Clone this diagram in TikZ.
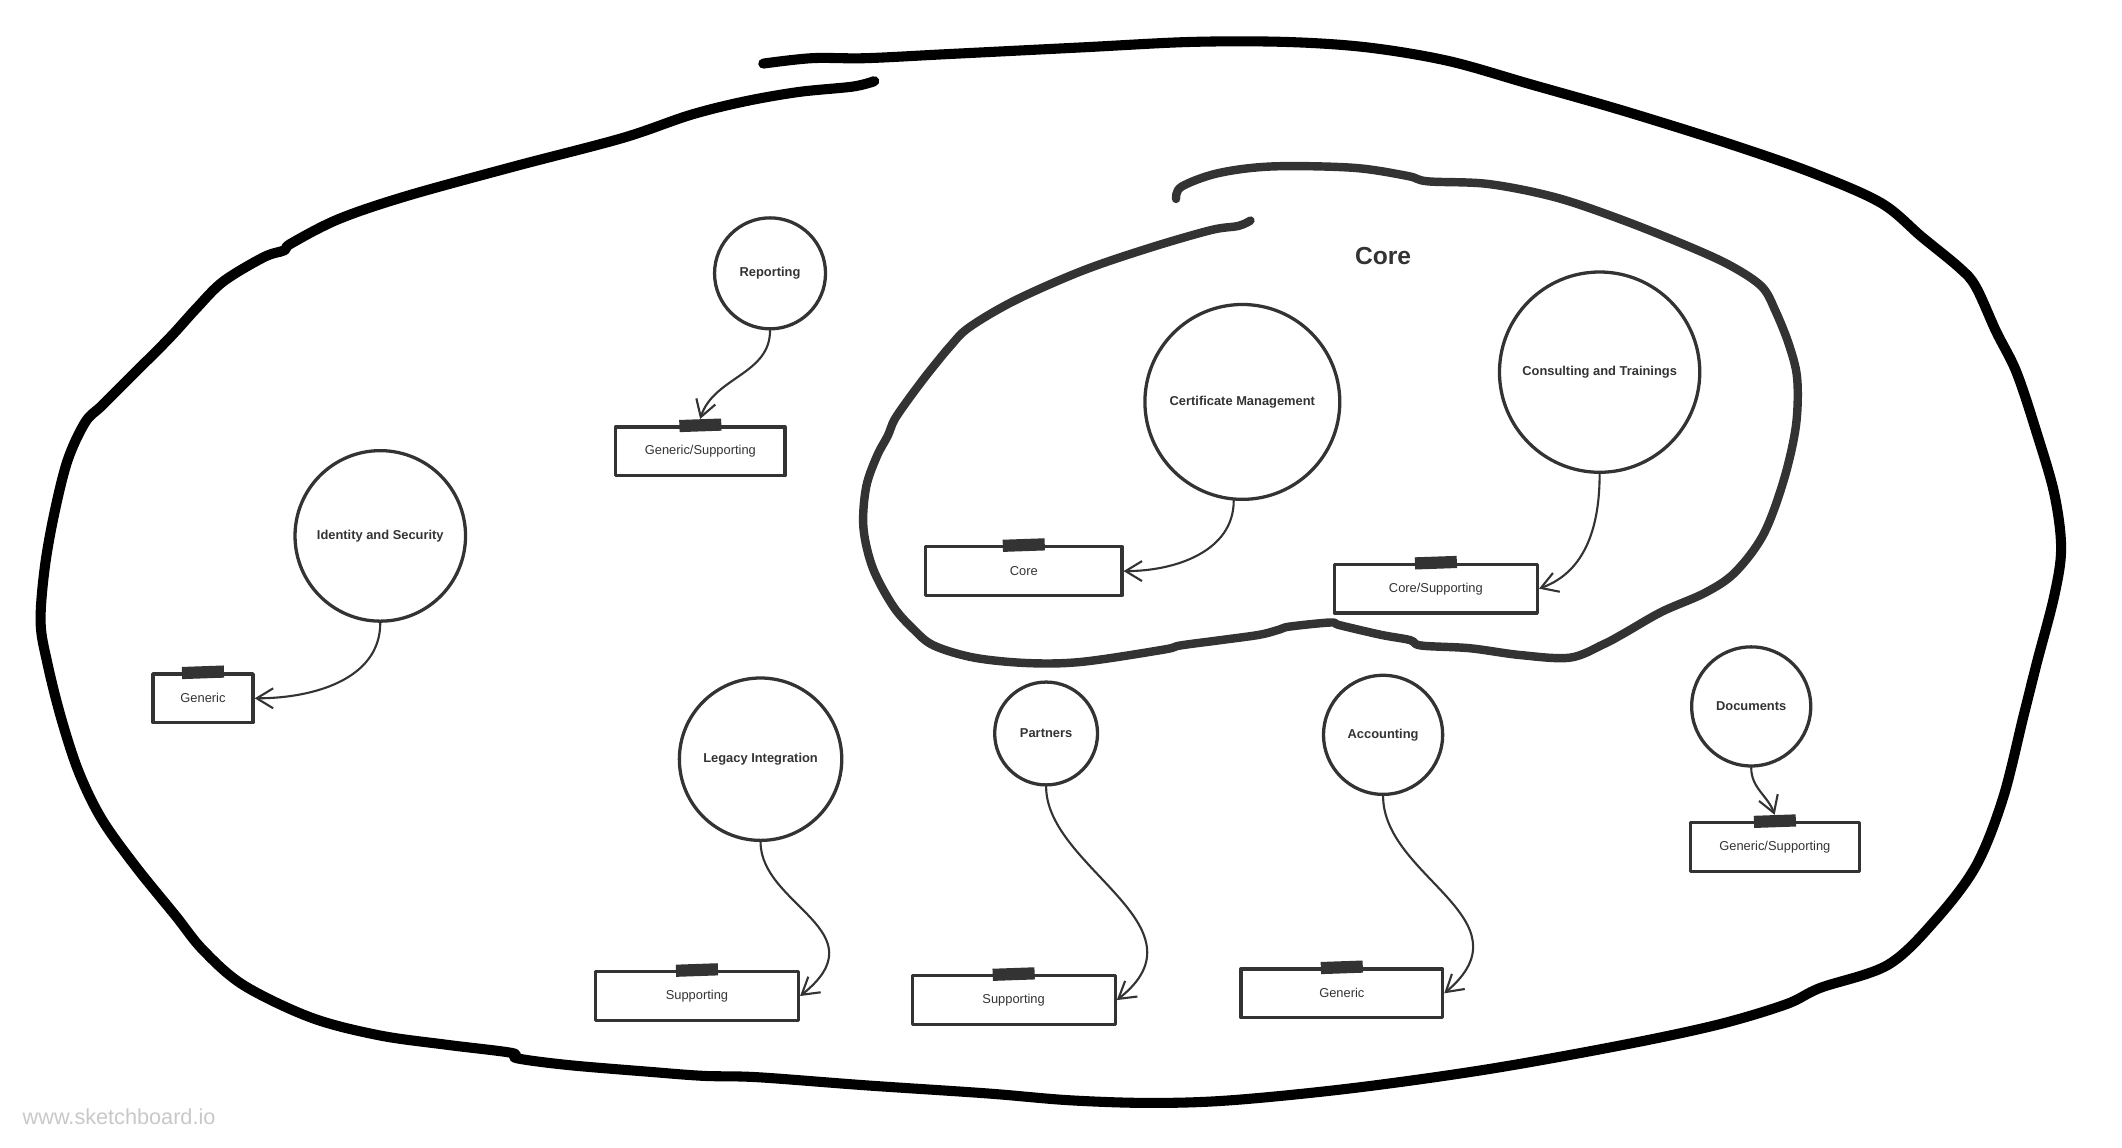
\documentclass[tikz,border=0pt]{standalone}
\usepackage{fontspec}
\setmainfont{Liberation Sans}
\usetikzlibrary{arrows.meta}
\definecolor{ink}{HTML}{333333}
\definecolor{wmgray}{HTML}{C8C8C8}
\newcommand{\unitlen}{0.0406cm}

\tikzset{
  boundary/.style={line width=8.6pt, line cap=round, line join=round},
  coreboundary/.style={line width=7.2pt, draw=ink, line cap=round, line join=round},
  bubble/.style={circle, draw=ink, line width=2.8pt, minimum size=#1*\unitlen, inner sep=0pt,
    text=ink, font=\fontsize{11}{13}\selectfont\bfseries, align=center},
  kindbox/.style={rectangle, draw=ink, line width=2.8pt, minimum height=36*\unitlen,
    minimum width=#1*\unitlen, inner sep=0pt, text=ink, font=\fontsize{11}{13}\selectfont},
  tape/.style={fill=ink, minimum width=31*\unitlen, minimum height=9*\unitlen, inner sep=0pt, rotate=2},
  link/.style={draw=ink, line width=1.8pt, -{Straight Barb[length=14pt,width=17pt]}},
}

\begin{document}
\begin{tikzpicture}[line cap=round,line join=round,x=\unitlen,y=\unitlen]
		\useasboundingbox (0,0) rectangle (1568,848);
		%%%%%%%%%%%%%%%%%%%%% D O M I N I O %%%%%%%%%%%%%%%%%%%%%
		\draw[boundary] plot[smooth, tension=0.55] coordinates {
			(564,801) (600,805) (640,805) (700,808) (800,813) (880,817) (950,817) (1010,813)
			(1070,803) (1130,786) (1200,766) (1280,741) (1340,720) (1390,698) (1420,673)
			(1448,650) (1460,636) (1475,603) (1490,573) (1505,528) (1518,483) (1523,443)
			(1518,408) (1505,358) (1495,318) (1480,258) (1460,208) (1430,168) (1395,135)
			(1345,118) (1320,106) (1270,91) (1200,76) (1100,58) (1000,44) (910,35) (850,33)
			(790,35) (730,40) (640,46) (560,52) (520,53) (480,56) (420,61) (382,66) (378,70)
			(330,76) (280,83) (230,96) (180,120) (150,146) (130,171) (100,208) (75,243)
			(58,278) (45,318) (35,358) (30,388) (33,428) (40,468) (50,508) (63,536) (75,548)
			(95,568) (125,598) (145,620) (165,640) (195,658) (210,663) (215,668) (250,686)
			(300,703) (380,725) (460,746) (510,763) (550,773) (590,780) (630,784) (646,788)};
		%%%% CORE
		\draw[coreboundary] plot[smooth, tension=0.55] coordinates {
			(869,701) (873,710) (900,720) (940,725) (1000,724) (1040,718) (1055,714) (1100,712)
			(1150,702) (1200,685) (1250,665) (1280,651) (1302,636) (1312,618) (1322,593)
			(1328,568) (1327,533) (1318,493) (1303,453) (1282,425) (1260,410) (1228,396)
			(1200,380) (1185,372) (1160,362) (1123,364) (1086,369) (1050,371) (1042,375)
			(1020,379) (990,386) (983,388) (953,385) (946,383) (931,379) (902,375) (872,371)
			(860,368) (800,359) (760,358) (720,362) (690,371) (675,383) (660,400) (645,428)
			(638,458) (640,488) (648,511) (656,526) (661,538) (672,554) (684,570) (692,580)
			(702,592) (716,606) (750,626) (800,648) (850,665) (895,678) (915,681) (924,685)};
		\node[text=ink, font=\fontsize{21}{25}\selectfont\bfseries] (coreLbl) at (1022,659) {Core};
		
		%%%% CONTEXTOS
		\node[bubble=82] (repo) at (569,646) {Reporting};
		\node[bubble=126] (idsec) at (281,452) {Identity and Security};
		\node[bubble=144] (cert) at (918,551) {Certificate Management};
		\node[bubble=148] (consult) at (1182,573) {Consulting and Trainings};
		\node[bubble=120] (legacy) at (562,287) {Legacy Integration};
		\node[bubble=76] (partners) at (773,306) {Partners};
		\node[bubble=88] (acct) at (1022,305) {Accounting};
		\node[bubble=88] (docs) at (1294,326) {Documents};
		
		%%%% TIPOS
		\node[kindbox=125] (repoT) at (517.5,514.5) {Generic/Supporting};
		\node[kindbox=74] (idsecT) at (150,332) {Generic};
		\node[kindbox=145] (coreT) at (756.5,426) {Core};
		\node[kindbox=150] (coresupT) at (1061,413) {Core/Supporting};
		\node[kindbox=150] (legacyT) at (515,112) {Supporting};
		\node[kindbox=150] (partnersT) at (749,109) {Supporting};
		\node[kindbox=149] (acctT) at (991.5,114) {Generic};
		\node[kindbox=125] (docsT) at (1311.5,222) {Generic/Supporting};
		\foreach \k in {repoT,idsecT,coreT,coresupT,legacyT,partnersT,acctT,docsT}
			\node[tape] (\k Tag) at (\k.north) {};
		
		%%%% FLECHAS
		\draw[link] (repo.south) to[out=-90,in=72] (repoTTag.north);
		\draw[link] (idsec.south) to[out=-90,in=0] (idsecT.east);
		\draw[link] (cert.-95) to[out=-90,in=0] (coreT.east);
		\draw[link] (consult.south) to[out=-90,in=20] (coresupT.east);
		\draw[link] (legacy.south) .. controls +(0,-47) and +(60,48) .. (legacyT.east);
		\draw[link] (partners.south) .. controls +(0,-60) and +(70,55) .. (partnersT.east);
		\draw[link] (acct.south) .. controls +(0,-60) and +(65,55) .. (acctT.east);
		\draw[link] (docs.south) to[out=-90,in=110] (docsTTag.north);
		
		\node[text=wmgray, font=\fontsize{18.5}{22}\selectfont] (wm) at (88,23) {www.sketchboard.io};
	\end{tikzpicture}
\end{document}
